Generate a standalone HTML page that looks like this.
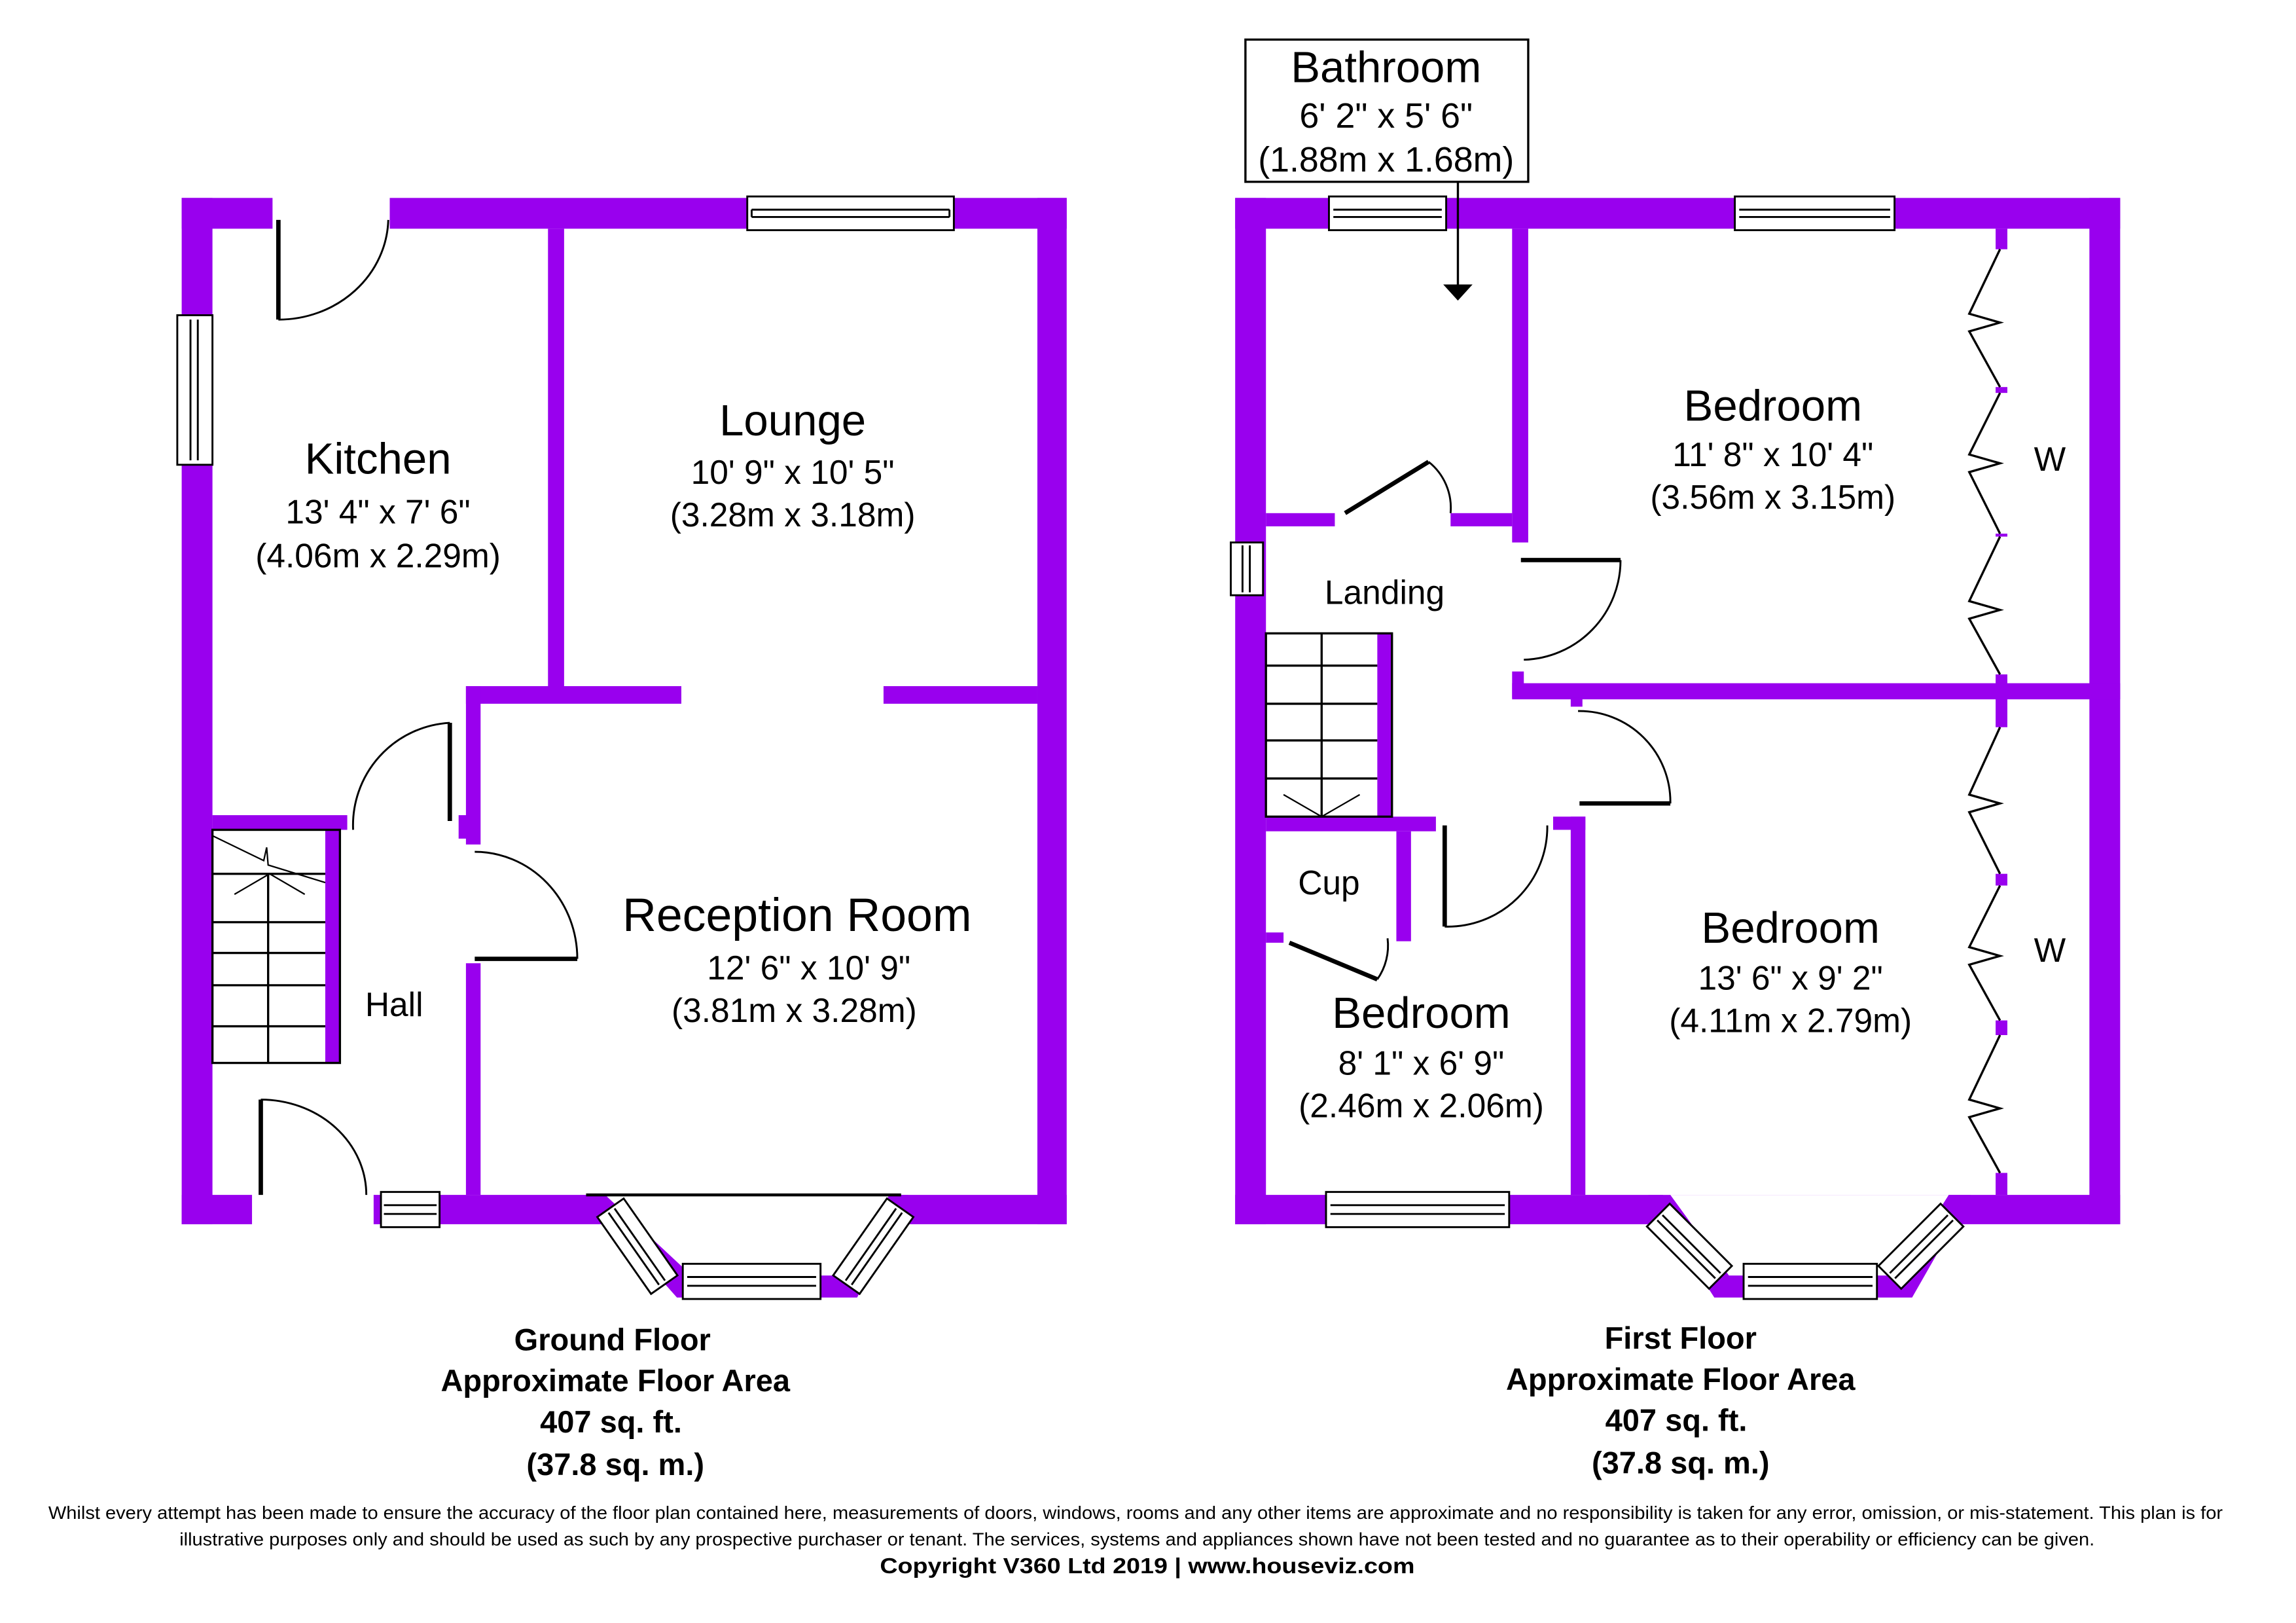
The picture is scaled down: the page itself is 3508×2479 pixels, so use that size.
<!DOCTYPE html>
<html><head><meta charset="utf-8"><style>
html,body{margin:0;padding:0;background:#fff}
svg{display:block}
text{font-family:"Liberation Sans",Arial,sans-serif;fill:#000}
</style></head><body>
<svg width="3508" height="2479" viewBox="0 0 1567 1107" preserveAspectRatio="none" xmlns="http://www.w3.org/2000/svg">
<rect width="1567" height="1107" fill="#fff"/>
<g fill="#9900EE">
<rect x="124" y="135" width="62" height="21"/>
<rect x="266" y="135" width="462" height="21"/>
<rect x="124" y="135" width="21" height="700"/>
<rect x="708" y="135" width="20" height="700"/>
<rect x="124" y="815" width="48" height="20"/>
<rect x="255" y="815" width="160" height="20"/>
<rect x="610" y="815" width="118" height="20"/>
<rect x="374" y="156" width="11" height="314"/>
<rect x="318" y="468" width="147" height="12"/>
<rect x="603" y="468" width="105" height="12"/>
<rect x="318" y="468" width="10" height="108"/>
<rect x="313" y="556" width="8" height="16"/>
<rect x="318" y="657" width="10" height="158"/>
<rect x="145" y="556" width="92" height="10"/>
<rect x="222" y="566" width="10" height="159"/>
<polygon points="400,815 620,815 585,885 462,885"/>
<rect x="843" y="135" width="604" height="21"/>
<rect x="843" y="135" width="21" height="700"/>
<rect x="1426" y="135" width="21" height="700"/>
<rect x="843" y="815" width="292" height="20"/>
<rect x="1330" y="815" width="117" height="20"/>
<rect x="1032" y="156" width="11" height="214"/>
<rect x="864" y="350" width="47" height="9"/>
<rect x="990" y="350" width="42" height="9"/>
<rect x="1032" y="458" width="8" height="18"/>
<rect x="1032" y="466" width="415" height="11"/>
<rect x="1072" y="476" width="8" height="6"/>
<rect x="1362" y="156" width="8" height="14"/>
<rect x="1362" y="460" width="8" height="36"/>
<rect x="1362" y="596" width="8" height="8"/>
<rect x="1362" y="696" width="8" height="10"/>
<rect x="1362" y="800" width="8" height="15"/>
<rect x="1362" y="264" width="8" height="4"/>
<rect x="1362" y="364" width="8" height="2"/>
<rect x="864" y="557" width="116" height="10"/>
<rect x="1060" y="557" width="22" height="9"/>
<rect x="1072" y="557" width="10" height="258"/>
<rect x="953" y="567" width="10" height="75"/>
<rect x="864" y="636" width="12" height="7"/>
<rect x="940" y="432" width="10" height="125"/>
<polygon points="1125,815 1345,815 1305,885 1170,885"/>
</g>
<polygon points="413,815 607,815 573,870 472,870" fill="#fff"/>
<line x1="400" y1="815" x2="615" y2="815" stroke="#000" stroke-width="2"/>
<polygon points="1140,815 1330,815 1295,870 1180,870" fill="#fff"/>
<g fill="#fff" stroke="#000" stroke-width="1.3">
<rect x="510" y="134" width="141" height="23"/><line x1="513" y1="143" x2="648" y2="143"/><line x1="513" y1="148" x2="648" y2="148"/><line x1="513" y1="143" x2="513" y2="148"/><line x1="648" y1="143" x2="648" y2="148"/>
<rect x="121" y="215" width="24" height="102"/><line x1="130" y1="218" x2="130" y2="314"/><line x1="135" y1="218" x2="135" y2="314"/>
<rect x="260" y="813" width="40" height="24"/><line x1="262" y1="822" x2="298" y2="822"/><line x1="262" y1="828" x2="298" y2="828"/>
<rect x="466" y="862" width="94" height="24"/><line x1="469" y1="871" x2="557" y2="871"/><line x1="469" y1="877" x2="557" y2="877"/>
<g transform="translate(435,850) rotate(55)"><rect x="-32" y="-11" width="64" height="22"/><line x1="-30" y1="-2" x2="30" y2="-2"/><line x1="-30" y1="3" x2="30" y2="3"/></g>
<g transform="translate(596,850) rotate(-55)"><rect x="-32" y="-11" width="64" height="22"/><line x1="-30" y1="-2" x2="30" y2="-2"/><line x1="-30" y1="3" x2="30" y2="3"/></g>
<rect x="907" y="134" width="80" height="23"/><line x1="910" y1="143" x2="984" y2="143"/><line x1="910" y1="148" x2="984" y2="148"/>
<rect x="1184" y="134" width="109" height="23"/><line x1="1187" y1="143" x2="1290" y2="143"/><line x1="1187" y1="148" x2="1290" y2="148"/>
<rect x="840" y="370" width="22" height="36"/><line x1="848" y1="372" x2="848" y2="404"/><line x1="853" y1="372" x2="853" y2="404"/>
<rect x="905" y="813" width="125" height="24"/><line x1="908" y1="822" x2="1027" y2="822"/><line x1="908" y1="828" x2="1027" y2="828"/>
<rect x="1190" y="862" width="91" height="24"/><line x1="1193" y1="871" x2="1278" y2="871"/><line x1="1193" y1="877" x2="1278" y2="877"/>
<g transform="translate(1153,850) rotate(45)"><rect x="-30" y="-11" width="60" height="22"/><line x1="-28" y1="-2" x2="28" y2="-2"/><line x1="-28" y1="3" x2="28" y2="3"/></g>
<g transform="translate(1311,850) rotate(-45)"><rect x="-30" y="-11" width="60" height="22"/><line x1="-28" y1="-2" x2="28" y2="-2"/><line x1="-28" y1="3" x2="28" y2="3"/></g>
</g>
<g fill="none" stroke="#000" stroke-width="1.5">
<rect x="145" y="566" width="87" height="159"/>
<line x1="145" y1="596" x2="222" y2="596"/><line x1="145" y1="629" x2="222" y2="629"/><line x1="145" y1="650" x2="222" y2="650"/><line x1="145" y1="672" x2="222" y2="672"/><line x1="145" y1="700" x2="222" y2="700"/>
<line x1="183" y1="596" x2="183" y2="725"/>
<polyline points="145,570 180,587 182,578 183,590 222,602" stroke-width="1"/>
<polyline points="160,610 184,596 208,610" stroke-width="1"/>
<rect x="864" y="432" width="86" height="125"/>
<line x1="864" y1="454" x2="940" y2="454"/><line x1="864" y1="480" x2="940" y2="480"/><line x1="864" y1="505" x2="940" y2="505"/><line x1="864" y1="531" x2="940" y2="531"/>
<line x1="902" y1="432" x2="902" y2="557"/>
<polyline points="876,542 902,557 928,542" stroke-width="1"/>
</g>
<g fill="none" stroke="#000" stroke-width="1.3">
<path d="M190 218 A75 70 0 0 0 265 150"/>
<path d="M307 493 A70 70 0 0 0 241 566"/>
<path d="M324 581 A70 73 0 0 1 394 654"/>
<path d="M178 750 A72 65 0 0 1 250 815"/>
<path d="M975 315 A40 40 0 0 1 990 350"/>
<path d="M1040 450 A68 68 0 0 0 1106 382"/>
<path d="M1077 485 A62 62 0 0 1 1140 548"/>
<path d="M986 632 A68 68 0 0 0 1056 563"/>
<path d="M940 668 A40 40 0 0 0 947 640"/>
</g>
<g stroke="#000" stroke-width="3" fill="none">
<line x1="190" y1="150" x2="190" y2="218"/>
<line x1="307" y1="493" x2="307" y2="560"/>
<line x1="324" y1="654" x2="394" y2="654"/>
<line x1="178" y1="750" x2="178" y2="815"/>
<line x1="918" y1="350" x2="975" y2="315"/>
<line x1="1038" y1="382" x2="1106" y2="382"/>
<line x1="1078" y1="548" x2="1140" y2="548"/>
<line x1="986" y1="563" x2="986" y2="632"/>
<line x1="880" y1="643" x2="940" y2="668"/>
</g>
<g stroke="#000" stroke-width="1.5" fill="none">
<polyline points="1365,170 1344,214 1365,220 1344,226 1365,264"/>
<polyline points="1365,268 1344,310 1365,316 1344,322 1365,364"/>
<polyline points="1365,366 1344,410 1365,416 1344,422 1365,460"/>
<polyline points="1365,496 1344,542 1365,548 1344,554 1365,596"/>
<polyline points="1365,604 1344,646 1365,652 1344,658 1365,696"/>
<polyline points="1365,706 1344,750 1365,756 1344,762 1365,800"/>
</g>
<rect x="850" y="27" width="193" height="97" fill="#fff" stroke="#000" stroke-width="1.5"/>
<line x1="995" y1="124" x2="995" y2="195" stroke="#000" stroke-width="1.5"/>
<polygon points="985,194 1005,194 995,205" fill="#000"/>
<g text-anchor="middle">
<text x="946" y="56" font-size="30">Bathroom</text>
<text x="946" y="87" font-size="24">6' 2" x 5' 6"</text>
<text x="946" y="117" font-size="24">(1.88m x 1.68m)</text>
<text x="258" y="323" font-size="30">Kitchen</text>
<text x="258" y="357" font-size="23">13' 4" x 7' 6"</text>
<text x="258" y="387" font-size="23">(4.06m x 2.29m)</text>
<text x="541" y="297" font-size="30">Lounge</text>
<text x="541" y="330" font-size="23">10' 9" x 10' 5"</text>
<text x="541" y="359" font-size="23">(3.28m x 3.18m)</text>
<text x="544" y="635" font-size="32">Reception Room</text>
<text x="552" y="668" font-size="23">12' 6" x 10' 9"</text>
<text x="542" y="697" font-size="23">(3.81m x 3.28m)</text>
<text x="269" y="693" font-size="23">Hall</text>
<text x="1210" y="287" font-size="30">Bedroom</text>
<text x="1210" y="318" font-size="23">11' 8" x 10' 4"</text>
<text x="1210" y="347" font-size="23">(3.56m x 3.15m)</text>
<text x="945" y="412" font-size="23">Landing</text>
<text x="907" y="610" font-size="23">Cup</text>
<text x="970" y="701" font-size="30">Bedroom</text>
<text x="970" y="733" font-size="23">8' 1" x 6' 9"</text>
<text x="970" y="762" font-size="23">(2.46m x 2.06m)</text>
<text x="1222" y="643" font-size="30">Bedroom</text>
<text x="1222" y="675" font-size="23">13' 6" x 9' 2"</text>
<text x="1222" y="704" font-size="23">(4.11m x 2.79m)</text>
<text x="1399" y="321" font-size="23">W</text>
<text x="1399" y="656" font-size="23">W</text>
<g font-weight="bold" font-size="21">
<text x="418" y="921">Ground Floor</text>
<text x="420" y="949">Approximate Floor Area</text>
<text x="417" y="977">407 sq. ft.</text>
<text x="420" y="1006">(37.8 sq. m.)</text>
<text x="1147" y="920">First Floor</text>
<text x="1147" y="948">Approximate Floor Area</text>
<text x="1144" y="976">407 sq. ft.</text>
<text x="1147" y="1005">(37.8 sq. m.)</text>
</g>
<text x="775" y="1036" font-size="12.5" textLength="1484" lengthAdjust="spacingAndGlyphs">Whilst every attempt has been made to ensure the accuracy of the floor plan contained here, measurements of doors, windows, rooms and any other items are approximate and no responsibility is taken for any error, omission, or mis-statement. This plan is for</text>
<text x="776" y="1054" font-size="12.5" textLength="1307" lengthAdjust="spacingAndGlyphs">illustrative purposes only and should be used as such by any prospective purchaser or tenant. The services, systems and appliances shown have not been tested and no guarantee as to their operability or efficiency can be given.</text>
<text x="783" y="1073" font-size="15" font-weight="bold" textLength="365" lengthAdjust="spacingAndGlyphs">Copyright V360 Ltd 2019 | www.houseviz.com</text>
</g>
</svg>
</body></html>
